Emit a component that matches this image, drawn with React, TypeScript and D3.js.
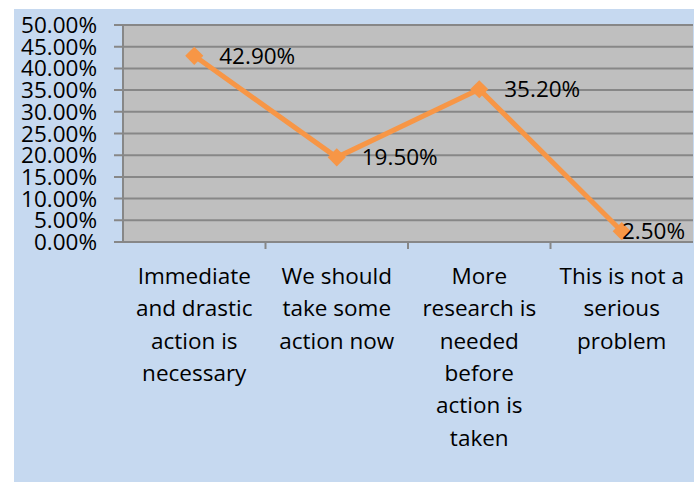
import React, { useEffect, useRef } from "react";
import * as d3 from "d3";

const categories = [
  ["Immediate", "and drastic", "action is", "necessary"],
  ["We should", "take some", "action now"],
  ["More", "research is", "needed", "before", "action is", "taken"],
  ["This is not a", "serious", "problem"],
];
const values = [42.9, 19.5, 35.2, 2.5];
const yTicks = [0, 5, 10, 15, 20, 25, 30, 35, 40, 45, 50];

export default function App() {
  const ref = useRef<SVGSVGElement>(null);

  useEffect(() => {
    const width = 700;
    const height = 482;
    const svg = d3.select(ref.current).attr("width", width).attr("height", height);
    svg.selectAll("*").remove();

    const font = "'Open Sans', 'Liberation Sans', sans-serif";
    const fs = "22.5px";
    const plot = { left: 123, right: 693, top: 25, bottom: 242 };

    // background
    svg
      .append("rect")
      .attr("x", 14)
      .attr("y", 9)
      .attr("width", 680)
      .attr("height", 473)
      .attr("fill", "#c6d9f0");

    svg
      .append("rect")
      .attr("x", plot.left)
      .attr("y", plot.top)
      .attr("width", plot.right - plot.left)
      .attr("height", plot.bottom - plot.top)
      .attr("fill", "#bfbfbf");

    const x = d3
      .scaleBand<number>()
      .domain(categories.map((_, i) => i))
      .range([plot.left, plot.right]);

    const y = d3.scaleLinear().domain([0, 50]).range([plot.bottom, plot.top]);

    // grid + y ticks
    svg
      .append("g")
      .selectAll("line")
      .data(yTicks)
      .join("line")
      .attr("x1", plot.left - 9)
      .attr("x2", plot.right)
      .attr("y1", (d) => y(d))
      .attr("y2", (d) => y(d))
      .attr("stroke", "#878787")
      .attr("stroke-width", 2);

    // y axis line
    svg
      .append("line")
      .attr("x1", plot.left)
      .attr("x2", plot.left)
      .attr("y1", plot.top)
      .attr("y2", plot.bottom + 1)
      .attr("stroke", "#878787")
      .attr("stroke-width", 2);

    // x tick marks
    svg
      .append("g")
      .selectAll("line")
      .data(d3.range(1, categories.length))
      .join("line")
      .attr("x1", (d) => x(d)!)
      .attr("x2", (d) => x(d)!)
      .attr("y1", plot.bottom)
      .attr("y2", plot.bottom + 7)
      .attr("stroke", "#878787")
      .attr("stroke-width", 2);

    // y labels
    svg
      .append("g")
      .selectAll("text")
      .data(yTicks)
      .join("text")
      .attr("x", 97)
      .attr("y", (d) => y(d) + 8)
      .attr("text-anchor", "end")
      .attr("font-family", font)
      .attr("font-size", fs)
      .attr("fill", "#000")
      .text((d) => `${d.toFixed(2)}%`);

    // category labels
    const cx = (i: number) => x(i)! + x.bandwidth() / 2;
    const cat = svg
      .append("g")
      .selectAll("text")
      .data(categories)
      .join("text")
      .attr("text-anchor", "middle")
      .attr("font-family", font)
      .attr("font-size", fs)
      .attr("fill", "#000");
    cat
      .selectAll("tspan")
      .data((d, i) => d.map((s) => ({ s, i })))
      .join("tspan")
      .attr("x", (d) => cx(d.i))
      .attr("y", (_, j) => 284 + j * 32.3)
      .text((d) => d.s);

    // line
    const line = d3
      .line<number>()
      .x((_, i) => cx(i))
      .y((d) => y(d));

    svg
      .append("path")
      .datum(values)
      .attr("d", line)
      .attr("fill", "none")
      .attr("stroke", "#f79646")
      .attr("stroke-width", 5)
      .attr("stroke-linejoin", "round");

    // markers (diamonds)
    svg
      .append("g")
      .selectAll("path")
      .data(values)
      .join("path")
      .attr("transform", (d, i) => `translate(${cx(i)},${y(d)}) rotate(45)`)
      .attr("d", d3.symbol().type(d3.symbolSquare).size(165)())
      .attr("fill", "#f79646");

    // data labels, pulled back inside the plot if they would overflow
    svg
      .append("g")
      .selectAll("text")
      .data(values)
      .join("text")
      .attr("y", (d) => y(d) + 8)
      .attr("font-family", font)
      .attr("font-size", fs)
      .attr("fill", "#000")
      .text((d) => `${d.toFixed(2)}%`)
      .attr("x", function (_, i) {
        const w = (this as SVGTextElement).getComputedTextLength();
        return Math.min(cx(i) + 25, plot.right - 8 - w);
      });
  }, []);

  return <svg ref={ref} style={{ position: "absolute", left: 0, top: 0 }} />;
}
